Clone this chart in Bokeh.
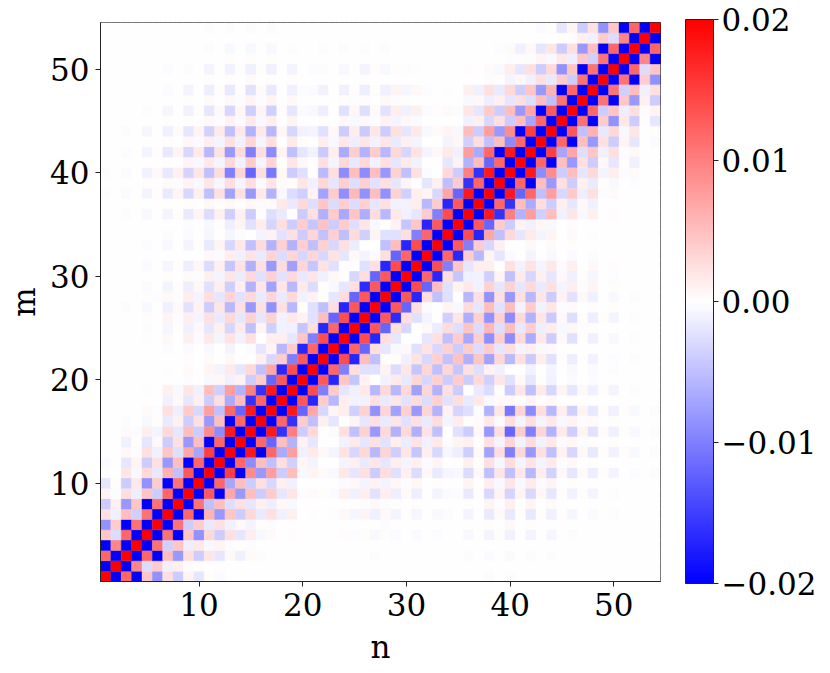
import numpy as np
from bokeh.plotting import figure
from bokeh.models import LinearColorMapper, ColorBar, FixedTicker, CustomJSTickFormatter, ColumnDataSource
from bokeh.embed import file_html
from bokeh.resources import INLINE

# Values, in units of 0.0001.
# far_rows: m = 54 down to 28, n = 1..27
far_rows = [
[0,0,0,0,0,0,0,0,0,0,-2,0,-2,0,-3,0,-3,0,-1,0,0,0,0,-1,0,-1,0],
[0,0,0,0,0,0,0,0,0,0,1,0,1,0,1,0,1,0,1,0,0,0,0,1,0,1,0],
[0,0,0,0,0,0,0,0,-1,0,-3,1,-5,0,-6,0,-6,0,-3,0,0,-2,0,-2,1,-3,1],
[0,0,0,0,0,0,0,0,0,0,1,0,2,0,3,0,3,0,1,0,0,0,0,1,-1,1,-1],
[0,0,0,0,0,0,-2,0,-3,0,-8,1,-10,2,-12,2,-12,0,-8,0,-2,-3,0,-5,1,-9,2],
[0,0,0,0,0,0,0,0,1,0,2,0,3,-1,4,-1,3,0,2,0,0,1,0,1,-1,2,-1],
[0,0,0,0,-1,0,-4,0,-8,1,-14,3,-18,3,-22,4,-18,1,-12,-3,-4,-10,1,-11,3,-14,3],
[0,0,0,0,0,0,1,0,2,0,4,0,6,-2,8,-2,8,0,5,0,0,1,0,3,-2,3,-1],
[0,0,-1,0,-3,0,-7,1,-10,3,-20,6,-32,7,-38,8,-36,2,-20,-4,-5,-14,1,-24,7,-26,4],
[0,0,0,0,1,0,2,0,3,-1,6,-2,10,-4,16,-5,14,-1,8,1,1,3,-1,5,-5,6,-3],
[-1,0,-3,0,-7,0,-11,4,-20,9,-35,16,-50,18,-60,18,-56,7,-32,-10,-9,-24,5,-40,15,-42,20],
[0,0,1,0,1,0,3,-1,7,-4,14,-8,24,-10,32,-8,26,-1,16,3,0,14,-6,18,-13,20,-10],
[-1,0,-3,1,-9,3,-18,8,-30,16,-55,22,-80,28,-100,26,-90,9,-50,-20,-10,-42,13,-65,38,-60,40],
[0,0,0,0,1,0,3,-1,8,-5,18,-8,30,-10,40,-8,34,0,20,5,0,24,-8,30,-18,30,-10],
[-2,1,-4,1,-10,5,-18,12,-34,20,-50,28,-100,34,-120,26,-105,5,-40,-24,0,-54,26,-90,50,-90,50],
[0,0,1,0,2,-1,4,-2,10,-6,20,-7,26,-8,26,-4,20,4,3,20,-12,32,-20,38,-26,36,-22],
[-2,0,-4,1,-9,3,-17,9,-30,14,-50,24,-72,24,-80,18,-60,-5,-28,-36,10,-72,40,-88,56,-85,50],
[0,0,0,0,1,0,1,0,2,0,5,2,6,0,6,4,-3,18,-16,30,-26,44,-28,38,-28,36,-20],
[-1,0,-2,0,-5,0,-9,3,-16,9,-28,12,-38,12,-40,3,-26,-16,0,-40,24,-62,40,-68,46,-64,28],
[0,0,0,0,0,0,-1,0,-2,1,-6,3,-14,9,-24,15,-34,26,-40,40,-44,48,-40,40,-26,20,-6],
[0,0,0,0,-1,0,-2,0,-4,0,-7,0,-7,-2,0,-8,10,-22,24,-40,32,-48,36,-50,28,-36,8],
[0,0,0,0,-3,0,-5,1,-8,3,-17,8,-30,18,-50,28,-60,36,-60,38,-50,36,-30,24,-15,1,1],
[0,0,0,0,0,0,1,0,1,-1,5,-4,14,-11,22,-16,34,-28,32,-32,32,-30,22,-20,6,-8,-4],
[0,0,-1,0,-4,1,-7,2,-14,7,-28,12,-44,22,-62,24,-80,28,-75,32,-44,22,-24,1,0,-24,26],
[0,0,0,0,1,0,2,-1,4,-3,12,-8,20,-15,30,-25,36,-22,30,-18,20,-12,5,1,-30,25,-120],
[0,0,-1,0,-4,1,-8,3,-14,7,-24,14,-38,14,-60,20,-72,20,-55,16,-28,2,-6,-20,24,-165,130],
[0,0,1,0,3,-2,5,-3,14,-8,26,-20,34,-22,30,-16,32,-16,30,-10,10,2,-20,26,-120,130,-200],
]
# near_rows: m = 1..27, n = 1..m
near_rows = [
[200],
[-200,200],
[120,-200,200],
[-200,95,-200,200],
[44,-28,120,-200,200],
[-85,40,-200,110,-200,200],
[24,-12,50,-36,110,-200,200],
[-40,12,-80,44,-200,110,-200,200],
[8,-2,26,-14,46,-40,120,-200,200],
[-20,2,-40,18,-85,40,-200,110,-200,200],
[3,0,20,-6,30,-18,60,-50,130,-200,200],
[-4,0,-20,8,-40,24,-80,50,-200,120,-200,200],
[1,0,6,-2,24,-12,44,-26,70,-70,150,-200,200],
[-1,0,-12,2,-20,6,-40,24,-80,50,-200,120,-200,200],
[1,0,4,-2,14,-8,30,-20,50,-40,90,-90,180,-200,200],
[-1,0,-3,1,-6,3,-16,12,-40,24,-80,50,-200,120,-200,200],
[0,0,1,0,4,-2,24,-14,42,-30,75,-50,120,-120,180,-200,200],
[0,0,0,0,-1,0,-12,6,-20,12,-40,26,-66,50,-160,120,-200,200],
[0,0,1,0,3,-1,12,-6,20,-12,50,-36,75,-60,100,-160,180,-200,200],
[0,0,0,0,0,0,-1,0,-2,1,-6,7,-12,10,-40,40,-120,130,-200,200],
[0,0,0,0,0,0,2,-1,4,-1,8,-8,16,-20,30,-50,70,-170,140,-200,200],
[0,0,0,0,0,0,1,0,3,-1,4,-1,5,0,0,12,-30,40,-100,130,-200,200],
[0,0,0,0,-1,0,-2,0,-4,1,-6,0,-8,0,-4,-20,8,-55,40,-170,120,-200,200],
[0,0,1,0,2,0,5,-1,12,-4,18,-8,22,-10,24,0,14,14,-20,45,-100,140,-200,200],
[0,0,0,0,-3,0,-7,2,-12,6,-20,12,-32,16,-50,8,-36,-10,-12,-45,26,-170,120,-200,200],
[0,0,0,1,3,0,8,-3,14,-8,24,-16,30,-20,35,-20,35,-10,18,10,-24,50,-120,140,-200,200],
[-1,0,-3,1,-5,1,-12,5,-22,10,-40,20,-55,24,-80,24,-85,24,-55,0,-24,-50,26,-170,130,-200,200],
]
tick_values = [10, 20, 30, 40, 50]
bar_ticks = [-0.02, -0.01, 0.0, 0.01, 0.02]

N = 54
M = np.zeros((N, N))
for r, row in enumerate(near_rows):
    assert len(row) == r + 1
    for c, v in enumerate(row):
        M[r, c] = M[c, r] = v
        M[N - 1 - r, N - 1 - c] = M[N - 1 - c, N - 1 - r] = v
for k, row in enumerate(far_rows):
    assert len(row) == 27
    r = N - 1 - k
    for c, v in enumerate(row):
        M[r, c] = M[c, r] = v
M = M / 10000.0

FONT = "DejaVu Serif"
FS = "31px"
blues = ["#%02x%02xff" % (i, i) for i in range(0, 256, 2)]
reds = ["#ff%02x%02x" % (i, i) for i in range(254, -1, -2)]
mapper = LinearColorMapper(palette=blues + reds, low=-0.02, high=0.02)

nn, mm = np.meshgrid(np.arange(1, N + 1), np.arange(1, N + 1))
source = ColumnDataSource(dict(n=nn.ravel(), m=mm.ravel(), v=M.ravel()))

p = figure(width=814, height=657, frame_width=560, frame_height=559,
           x_range=(0.5, 54.5), y_range=(0.5, 54.5),
           output_backend="svg", toolbar_location=None,
           min_border_left=100, min_border_top=22, min_border_right=10, min_border_bottom=10,
           x_axis_label="n", y_axis_label="m")
p.rect(x="n", y="m", width=1, height=1, source=source,
       fill_color={"field": "v", "transform": mapper},
       line_color={"field": "v", "transform": mapper}, line_width=0.4)
p.grid.visible = False
p.outline_line_color = "#222222"
p.outline_line_width = 1
for ax in (p.xaxis[0], p.yaxis[0]):
    ax.ticker = FixedTicker(ticks=tick_values)
    ax.minor_tick_line_color = None
    ax.major_tick_in = 0
    ax.major_tick_out = 5
    ax.major_tick_line_color = "#222222"
    ax.axis_line_color = "#222222"
    ax.major_label_text_font = FONT
    ax.major_label_text_font_size = FS
    ax.major_label_text_color = "#000000"
    ax.axis_label_text_font = FONT
    ax.axis_label_text_font_size = FS
    ax.axis_label_text_font_style = "normal"
    ax.axis_label_text_color = "#000000"
p.yaxis[0].major_label_orientation = "horizontal"
p.xaxis[0].major_label_standoff = 6
p.yaxis[0].major_label_standoff = 6
p.xaxis[0].axis_label_standoff = 10

cb = ColorBar(color_mapper=mapper, ticker=FixedTicker(ticks=bar_ticks),
              formatter=CustomJSTickFormatter(code="return (tick < 0 ? '\\u2212' : '') + Math.abs(tick).toFixed(2)"),
              width=28, height=564, padding=0, margin=0, location=(25, -2),
              major_tick_in=0, major_tick_out=5, major_tick_line_color="#222222",
              bar_line_color="#222222", minor_tick_line_color=None,
              major_label_text_font=FONT, major_label_text_font_size=FS,
              major_label_text_color="#000000", label_standoff=3)
p.add_layout(cb, "right")

open("out.html", "w").write(file_html(p, INLINE))
